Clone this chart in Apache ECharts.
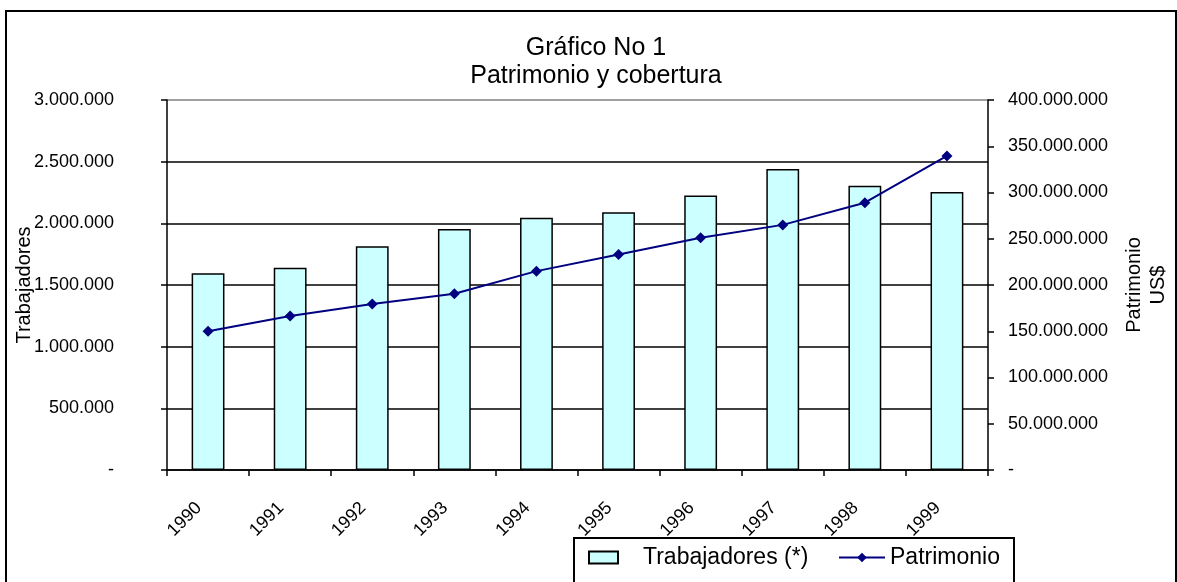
<!DOCTYPE html>
<html>
<head>
<meta charset="utf-8">
<script src="https://cdn.jsdelivr.net/npm/echarts@6/dist/echarts.min.js"></script>
<style>
  html, body { margin: 0; padding: 0; background: #fff; }
  #chart { width: 1177px; height: 582px; }
</style>
</head>
<body>
<div id="chart"></div>
<script>
// datos
var years = ["1990", "1991", "1992", "1993", "1994", "1995", "1996", "1997", "1998", "1999"];
var trabajadores = [1595000, 1640000, 1815000, 1955000, 2045000, 2090000, 2225000, 2440000, 2305000, 2255000];
var patrimonio = [150000000, 166500000, 179500000, 190500000, 215000000, 233000000, 251000000, 265000000, 289000000, 339500000];

(function() {
  var myChart = echarts.init(document.getElementById("chart"));
  var font = "'Liberation Sans', Arial, sans-serif";

  // miles con punto, cero como guion
  function fmt(v) {
    if (v === 0) return "-";
    return String(v).replace(/\B(?=(\d{3})+(?!\d))/g, ".");
  }

  var option = {
    animation: false,
    backgroundColor: "#fff",
    textStyle: { fontFamily: font },
    title: {
      text: "Gráfico No 1\nPatrimonio y cobertura",
      left: 591,
      top: 29,
      textAlign: "center",
      textStyle: {
        fontFamily: font,
        fontSize: 25,
        fontWeight: "normal",
        color: "#000",
        lineHeight: 28
      }
    },
    legend: [
      {
        data: [{ name: "Trabajadores (*)", icon: "rect" }],
        left: 583,
        top: 541,
        itemWidth: 29,
        itemHeight: 12,
        textStyle: { fontFamily: font, fontSize: 23, color: "#000", padding: [0, 0, 0, 20] }
      },
      {
        data: ["Patrimonio"],
        left: 833,
        top: 541,
        itemWidth: 46,
        itemHeight: 12,
        textStyle: { fontFamily: font, fontSize: 23, color: "#000" }
      }
    ],
    grid: {
      left: 167,
      right: 189,
      top: 100,
      bottom: 112,
      containLabel: false,
      outerBoundsMode: "none"
    },
    xAxis: {
      type: "category",
      data: years,
      axisLine: { lineStyle: { color: "#000", width: 1.5 } },
      axisTick: { show: true, length: 6, lineStyle: { color: "#000", width: 1.5 } },
      axisLabel: {
        rotate: 45,
        margin: 26,
        padding: [0, 13, 0, 0],
        fontSize: 18,
        color: "#000",
        fontFamily: font
      },
      splitLine: { show: false }
    },
    yAxis: [
      {
        type: "value",
        min: 0,
        max: 3000000,
        interval: 500000,
        name: "Trabajadores",
        nameLocation: "middle",
        nameGap: 133,
        nameRotate: 90,
        nameMoveOverlap: false,
        nameTextStyle: { fontFamily: font, fontSize: 20, color: "#000" },
        axisLine: { show: true, lineStyle: { color: "#000", width: 1.5 } },
        axisTick: { show: true, length: 6, lineStyle: { color: "#000", width: 1.5 } },
        axisLabel: { margin: 53, fontSize: 18, color: "#000", fontFamily: font, formatter: fmt },
        splitLine: {
          show: true,
          lineStyle: {
            color: ["#000", "#000", "#000", "#000", "#000", "#000", "#808080"],
            width: 1.5
          }
        }
      },
      {
        type: "value",
        position: "right",
        min: 0,
        max: 400000000,
        interval: 50000000,
        name: "Patrimonio\nUS$",
        nameLocation: "middle",
        nameGap: 134,
        nameRotate: 90,
        nameMoveOverlap: false,
        nameTextStyle: { fontFamily: font, fontSize: 20, color: "#000", lineHeight: 24 },
        axisLine: { show: true, lineStyle: { color: "#000", width: 1.5 } },
        axisTick: { show: true, length: 6, lineStyle: { color: "#000", width: 1.5 } },
        axisLabel: { margin: 20, fontSize: 18, color: "#000", fontFamily: font, formatter: fmt },
        splitLine: { show: false }
      }
    ],
    series: [
      {
        name: "Trabajadores (*)",
        type: "bar",
        yAxisIndex: 0,
        data: trabajadores,
        barWidth: "40%",
        itemStyle: {
          color: "#ccffff",
          borderColor: "#000",
          borderWidth: 1.5
        }
      },
      {
        name: "Patrimonio",
        type: "line",
        yAxisIndex: 1,
        data: patrimonio,
        symbol: "diamond",
        symbolSize: 11,
        lineStyle: { color: "#000080", width: 2 },
        itemStyle: { color: "#000080" }
      }
    ],
    graphic: [
      {
        // marco exterior
        type: "rect",
        shape: { x: 6, y: 11, width: 1170, height: 600 },
        style: { fill: "none", stroke: "#000", lineWidth: 2 },
        z: 100
      },
      {
        // marco de la leyenda
        type: "rect",
        shape: { x: 574, y: 538, width: 440, height: 60 },
        style: { fill: "none", stroke: "#000", lineWidth: 2 },
        z: 100
      }
    ]
  };

  myChart.setOption(option);
  window.addEventListener("resize", function() {
    myChart.resize();
  });
})();
</script>
</body>
</html>
